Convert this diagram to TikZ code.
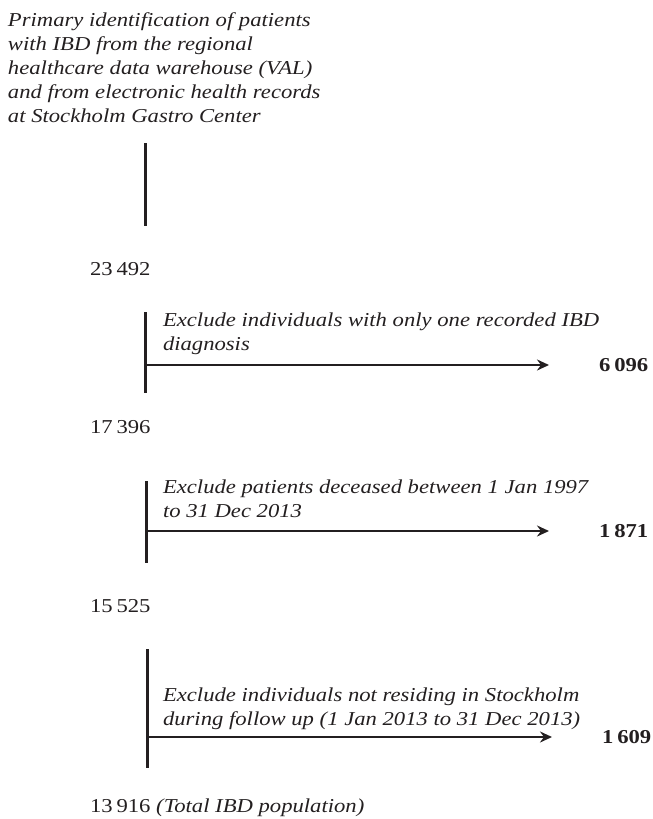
\documentclass[tikz,border=0pt]{standalone}
\usepackage{fontspec}
\setmainfont{Liberation Serif}[FakeStretch=1.15]
\usetikzlibrary{arrows.meta}
\definecolor{ink}{HTML}{231F20}
\newcommand{\gapsp}{\hspace{0.2em}}
\begin{document}
\begin{tikzpicture}[x=1pt,y=-1pt,
  every node/.style={inner sep=0pt, outer sep=0pt, text=ink},
  txt/.style={anchor=base west, align=left, font=\fontsize{19.7}{24}\selectfont\itshape},
  num/.style={anchor=base west, font=\fontsize{19.7}{24}\selectfont},
  cnt/.style={anchor=base west, font=\fontsize{19.7}{24}\selectfont\bfseries},
  stem/.style={draw=ink, line width=3pt},
  flow/.style={draw=ink, line width=2.5pt, -{Stealth[length=12pt, width=11pt, inset=4pt]}}]
\useasboundingbox (0,0) rectangle (653,819);

\node[txt] (src) at (8,122) {Primary identification of patients\\with IBD from the regional\\healthcare data warehouse (VAL)\\and from electronic health records\\at Stockholm Gastro Center};

\coordinate (a1) at (145,143);
\coordinate (b1) at (145,226);
\draw[stem] (a1) -- (b1);
\node[num] (n1) at (90,275) {23\gapsp492};

% step 1
\coordinate (a2) at (145,312);
\coordinate (b2) at (145,393);
\coordinate (s2) at (145,365);
\coordinate (e2) at (549,365);
\draw[stem] (a2) -- (b2);
\draw[flow] (s2) -- (e2);
\node[txt] (x2) at (163,350) {Exclude individuals with only one recorded IBD\\diagnosis};
\node[cnt] (c2) at (599,371) {6\gapsp096};
\node[num] (n2) at (90,433) {17\gapsp396};

% step 2
\coordinate (a3) at (146,481);
\coordinate (b3) at (146,563);
\coordinate (s3) at (146,531);
\coordinate (e3) at (549,531);
\draw[stem] (a3) -- (b3);
\draw[flow] (s3) -- (e3);
\node[txt] (x3) at (163,517) {Exclude patients deceased between 1 Jan 1997\\to 31 Dec 2013};
\node[cnt] (c3) at (599,537) {1\gapsp871};
\node[num] (n3) at (90,612) {15\gapsp525};

% step 3
\coordinate (a4) at (147,649);
\coordinate (b4) at (147,768);
\coordinate (s4) at (147,737);
\coordinate (e4) at (552,737);
\draw[stem] (a4) -- (b4);
\draw[flow] (s4) -- (e4);
\node[txt] (x4) at (163,725) {Exclude individuals not residing in Stockholm\\during follow up (1 Jan 2013 to 31 Dec 2013)};
\node[cnt] (c4) at (602,743) {1\gapsp609};
\node[num] (n4) at (90,812) {13\gapsp916 \textit{(Total IBD population)}};
\end{tikzpicture}
\end{document}
